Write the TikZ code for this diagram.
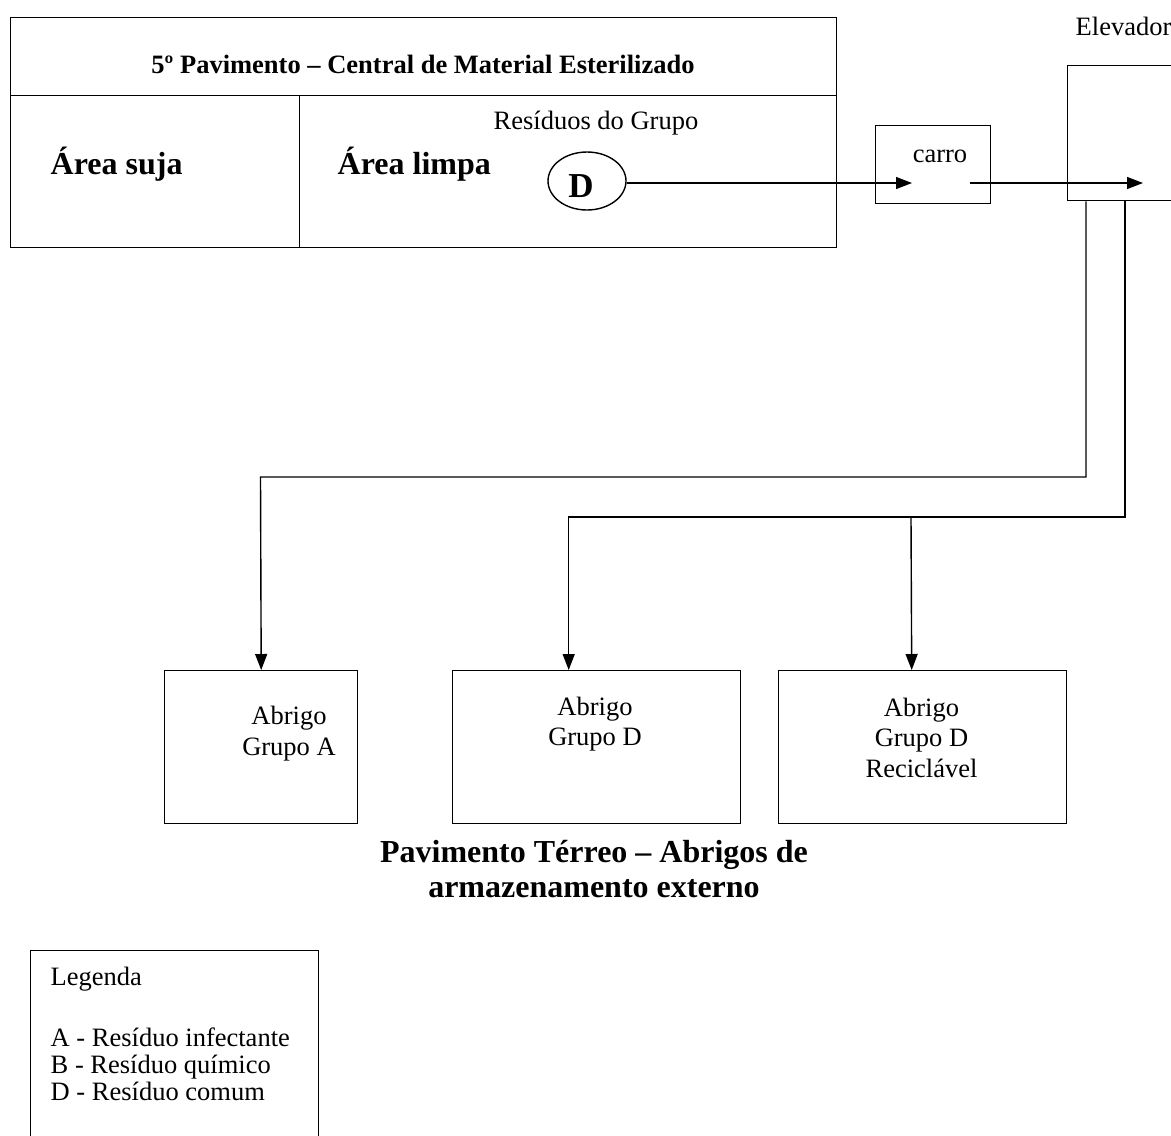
\documentclass[tikz,border=0pt]{standalone}
\usepackage{fontspec}
\setmainfont{Liberation Serif}
\usetikzlibrary{arrows.meta,shapes.geometric}
\begin{document}
\begin{tikzpicture}[x=1pt,y=-1pt,line width=1.4pt,
  box/.style={draw,rectangle,inner sep=0pt,anchor=north west},
  arr/.style={-{Triangle[length=16pt,width=12pt]}},
  txt/.style={font=\fontsize{26.5}{30}\selectfont,inner sep=0pt},
  htxt/.style={font=\bfseries\fontsize{26.5}{30}\selectfont,inner sep=0pt},
  btxt/.style={font=\bfseries\fontsize{32}{35}\selectfont,inner sep=0pt}]
\useasboundingbox (0,0) rectangle (1171,1136);
\clip (0,0) rectangle (1171,1136);

% 5th floor: sterile supply department
\node[box,minimum width=826pt,minimum height=78pt] (head) at (10,17) {};
\node[box,minimum width=289pt,minimum height=152pt] (suja) at (10,95) {};
\node[box,minimum width=537pt,minimum height=152pt] (limpa) at (299,95) {};
\node[htxt] (headtxt) at (423,64) {5º Pavimento – Central de Material Esterilizado};
\node[btxt,anchor=base west] (sujatxt) at (50,174) {Área suja};
\node[btxt,anchor=base west] (limpatxt) at (337,174) {Área limpa};
\node[txt,anchor=base] (residuos) at (596,129) {Resíduos do Grupo};
\node[draw,ellipse,minimum width=78pt,minimum height=58pt,inner sep=0pt] (d) at (587,181) {};
\node[inner sep=0pt,anchor=base,font=\bfseries\fontsize{35}{35}\selectfont] (dtxt) at (581,197) {D};

% cart and elevator
\node[box,minimum width=115pt,minimum height=78pt] (carro) at (875,125) {};
\node[txt,anchor=base] (carrotxt) at (940,162) {carro};
\node[box,minimum width=160pt,minimum height=135pt] (elev) at (1067,65) {};
\node[txt,anchor=base west] (elevtxt) at (1075,35) {Elevador};
\coordinate (carin) at (912,183);
\coordinate (carout) at (970,183);
\coordinate (elevin) at (1143,183);

% ground floor shelters
\node[box,minimum width=193pt,minimum height=153pt] (abrA) at (164,670) {};
\node[box,minimum width=288pt,minimum height=153pt] (abrD) at (452,670) {};
\node[box,minimum width=288pt,minimum height=153pt] (abrR) at (778,670) {};
\node[txt,anchor=base] (a1) at (289,724) {Abrigo};
\node[txt,anchor=base] (a2) at (289,755) {Grupo A};
\node[txt,anchor=base] (d1) at (595,715) {Abrigo};
\node[txt,anchor=base] (d2) at (595,745) {Grupo D};
\node[txt,anchor=base] (r1) at (921.5,716) {Abrigo};
\node[txt,anchor=base] (r2) at (921.5,746) {Grupo D};
\node[txt,anchor=base] (r3) at (921.5,777) {Reciclável};
\node[btxt,anchor=base] (terreo1) at (594,862) {Pavimento Térreo – Abrigos de};
\node[btxt,anchor=base] (terreo2) at (594,897) {armazenamento externo};

% legend
\node[box,minimum width=288pt,minimum height=260pt] (leg) at (30,950) {};
\node[txt,anchor=base west] (l0) at (50,985) {Legenda};
\node[txt,anchor=base west] (l1) at (50,1046) {A - Resíduo infectante};
\node[txt,anchor=base west] (l2) at (50,1073) {B - Resíduo químico};
\node[txt,anchor=base west] (l3) at (50,1100) {D - Resíduo comum};

% flow
\coordinate (ja) at (260.5,477);
\coordinate (jd) at (911,517);
\draw[arr] (d.east |- carin) -- (carin);
\draw[arr] (carout) -- (elevin);
\draw[arr] ([xshift=19pt]elev.south west) |- (ja) -- (abrA.north);
\draw[arr] ([xshift=58pt]elev.south west) |- (jd) -| ([xshift=-28pt]abrD.north);
\draw[arr] (jd) -- ([xshift=-11pt]abrR.north);
\end{tikzpicture}
\end{document}
